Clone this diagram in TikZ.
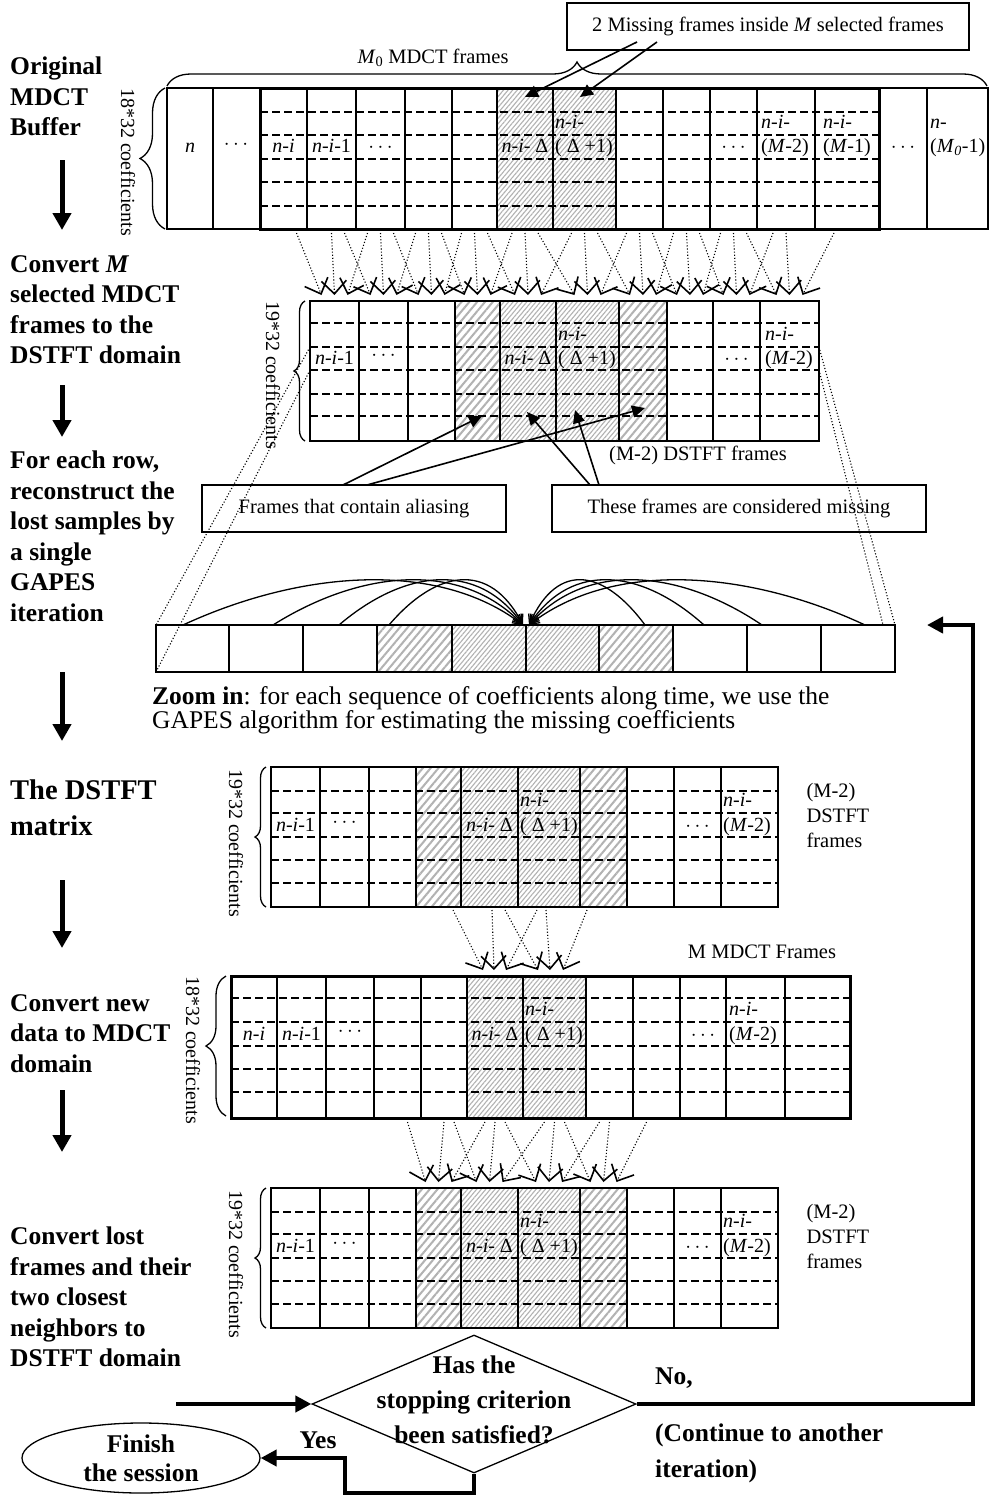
\documentclass[tikz,border=0pt]{standalone}
\usepackage{fontspec}
\setmainfont{Liberation Serif}
\usetikzlibrary{arrows.meta,decorations.pathreplacing,patterns.meta,shapes.geometric}

\begin{document}
\begin{tikzpicture}[
  x=1pt,
  y=-1pt,
  font=\fontsize{20.5}{25}\selectfont,
  steplabel/.style={font=\fontsize{25.5}{30.5}\selectfont\bfseries, align=left, anchor=north west, inner sep=0pt},
  boldtext/.style={font=\fontsize{25.5}{30}\selectfont\bfseries, inner sep=0pt},
  celllabel/.style={font=\fontsize{20}{22}\selectfont, inner sep=0pt, anchor=base},
  upperlabel/.style={celllabel, anchor=base west},
  coeflabel/.style={font=\fontsize{20}{22}\selectfont, rotate=-90, inner sep=0pt},
  callout/.style={draw, line width=1.3pt, inner sep=0pt},
  cellline/.style={line width=1.3pt},
  midline/.style={line width=2.2pt},
  rowline/.style={line width=1.3pt, dash pattern=on 8pt off 4pt},
  window/.style={line width=3pt},
  hatchwide/.style={pattern={Lines[angle=50,distance=6pt,line width=2pt]}, pattern color=black!30},
  hatchdense/.style={pattern={Lines[angle=50,distance=3.5pt,line width=1.1pt]}, pattern color=black!30},
  downarrow/.style={line width=5pt, -{Triangle[length=17pt,width=18pt]}},
  flowarrow/.style={line width=4pt, -{Triangle[length=16pt,width=16pt]}},
  conv/.style={dotted, line width=1.1pt, -{Straight Barb[length=13pt,width=25pt,line width=1.6pt]}},
  pointer/.style={line width=1.6pt, -{Triangle[length=13pt,width=12pt]}},
  gapes/.style={line width=1.3pt, -{Straight Barb[length=9pt,width=10pt]}},
  zoomline/.style={dotted, line width=1.1pt},
  coefbrace/.style={decorate, decoration={brace, amplitude=#1}, line width=1.3pt}
]

% White background
\fill[white] (0,0) rectangle (988,1496);
\useasboundingbox (0,0) rectangle (988,1496);

% Step labels
\node[steplabel] (s-orig) at (10,57) {Original\\MDCT\\Buffer};
\node[steplabel] (s-conv) at (10,255) {Convert \textit{M}\\selected MDCT\\frames to the\\DSTFT domain};
\node[steplabel] (s-row) at (10,451) {For each row,\\reconstruct the\\lost samples by\\a single\\GAPES\\iteration};
\node[steplabel, font=\fontsize{28.5}{36}\selectfont\bfseries] (s-mat) at (10,780) {The DSTFT\\matrix};
\node[steplabel] (s-new) at (10,994) {Convert new\\data to MDCT\\domain};
\node[steplabel] (s-lost) at (10,1227) {Convert lost\\frames and their\\two closest\\neighbors to\\DSTFT domain};

% Down arrows between steps
\foreach \a/\b [count=\n] in {160/230, 385/437, 672/741, 880/948, 1090/1152} {
  \coordinate (dn\n-from) at (62,\a);
  \coordinate (dn\n-to) at (62,\b);
  \draw[downarrow] (dn\n-from) -- (dn\n-to);
}

% Original MDCT buffer
\fill[hatchdense] (497,88) rectangle (616,229);
\foreach \y in {112,135,159,182,206}
  \draw[rowline] (260,\y) -- (879,\y);
\foreach \x in {213,260,307,356,405,452,497,553,616,663,710,757,815,879,927}
  \draw[cellline] (\x,88) -- (\x,229);
\draw[cellline] (167,88) rectangle (988,229);
\draw[window] (260,88) rectangle (879,229);

\node[celllabel] (tb-n) at (190,152) {\textit{n}};
\node[celllabel] (tb-d1) at (236,149) {$\cdots$};
\node[celllabel] (tb-ni) at (283.5,152) {\textit{n}-\textit{i}};
\node[celllabel] (tb-ni1) at (331.5,152) {\textit{n}-\textit{i}-1};
\node[celllabel] (tb-d2) at (380.5,152) {$\cdots$};
\node[celllabel] (tb-del) at (525,152) {\textit{n}-\textit{i}- Δ};
\node[upperlabel] (tb-up1) at (555,128) {\textit{n}-\textit{i}-};
\node[upperlabel] (tb-lo1) at (555,152) {( Δ +1)};
\node[celllabel] (tb-d3) at (733.5,152) {$\cdots$};
\node[upperlabel] (tb-up2) at (761,128) {\textit{n}-\textit{i}-};
\node[upperlabel] (tb-lo2) at (761,152) {(\textit{M}-2)};
\node[upperlabel] (tb-up3) at (823,128) {\textit{n}-\textit{i}-};
\node[upperlabel] (tb-lo3) at (823,152) {(\textit{M}-1)};
\node[celllabel] (tb-d4) at (903,152) {$\cdots$};
\node[upperlabel] (tb-up4) at (930,128) {\textit{n}-};
\node[upperlabel] (tb-lo4) at (930,152) {(\textit{M}\textsubscript{\textit{0}}-1)};

\draw[coefbrace=24] (167,86) -- (987,86);
\node (m0lbl) at (433,58) {\textit{M}\textsubscript{0} MDCT frames};
\draw[coefbrace=25] (165,229) -- (165,88);
\node[coeflabel] (coef-top) at (128,162) {18*32 coefficients};

% Missing frames call-out
\node[callout, minimum width=402, minimum height=47] (missbox) at (768,26.5) {2 Missing frames inside \textit{M} selected frames};
\coordinate (mb-a) at (637,42);
\coordinate (mb-b) at (657,42);
\coordinate (hit-a) at (525,97);
\coordinate (hit-b) at (580,97);
\draw[pointer] (mb-a) -- (hit-a);
\draw[pointer] (mb-b) -- (hit-b);

% MDCT -> DSTFT conversion
\foreach \ca/\cb/\cc/\d in {283.5/331.5/380.5/334.5, 331.5/380.5/428.5/383.5, 380.5/428.5/474.5/431.5,
    428.5/474.5/525/477.5, 474.5/525/584.5/528, 525/584.5/639.5/587.5, 584.5/639.5/686.5/643,
    639.5/686.5/733.5/690, 686.5/733.5/786/736.5, 733.5/786/847/789.5} {
  \draw[conv] (\ca+13,233) -- (\d-13,295);
  \draw[conv] (\cb,233) -- (\d,295);
  \draw[conv] (\cc-13,233) -- (\d+13,295);
}

% First DSTFT frames
\fill[hatchwide] (455,301) rectangle (500,441);
\fill[hatchdense] (500,301) rectangle (619,441);
\fill[hatchwide] (619,301) rectangle (667,441);
\foreach \y in {323,347,370,394,416}
  \draw[rowline] (310,\y) -- (819,\y);
\foreach \x in {359,408,455,500,667,713,760}
  \draw[cellline] (\x,301) -- (\x,441);
\foreach \x in {556,619}
  \draw[midline] (\x,301) -- (\x,441);
\draw[cellline] (310,301) rectangle (819,441);

\node[celllabel] (d1-ni1) at (334.5,364) {\textit{n}-\textit{i}-1};
\node[celllabel] (d1-dots1) at (383.5,360) {$\cdots$};
\node[celllabel] (d1-del) at (528,364) {\textit{n}-\textit{i}- Δ};
\node[upperlabel] (d1-up1) at (558,340) {\textit{n}-\textit{i}-};
\node[upperlabel] (d1-lo1) at (558,364) {( Δ +1)};
\node[celllabel] (d1-dots2) at (736.5,364) {$\cdots$};
\node[upperlabel] (d1-up2) at (765,340) {\textit{n}-\textit{i}-};
\node[upperlabel] (d1-lo2) at (765,364) {(\textit{M}-2)};

\draw[coefbrace=11] (305,441) -- (305,301);
\node[coeflabel] (coef-d1) at (273,375) {19*32 coefficients};
\node (d1lbl) at (698,455) {(M-2) DSTFT frames};

% Aliasing and missing call-outs
\node[callout, minimum width=304, minimum height=47] (aliasbox) at (354,508.5) {Frames that contain aliasing};
\node[callout, minimum width=374, minimum height=47] (lostbox) at (739,508.5) {These frames are considered missing};
\coordinate (ab-a) at (343,485);
\coordinate (ab-b) at (367,485);
\coordinate (lb-a) at (590,485);
\coordinate (lb-b) at (599,485);
\coordinate (al-a) at (482,416);
\coordinate (al-b) at (645,408);
\coordinate (ls-a) at (527,412);
\coordinate (ls-b) at (575,410);
\draw[pointer] (ab-a) -- (al-a);
\draw[pointer] (ab-b) -- (al-b);
\draw[pointer] (lb-a) -- (ls-a);
\draw[pointer] (lb-b) -- (ls-b);

% Zoom lines to the single row
\draw[zoomline] (310,347) -- (156,625);
\draw[zoomline] (310,370) -- (156,672);
\draw[zoomline] (819,347) -- (895,625);
\draw[zoomline] (819,370) -- (883,625);

% Zoomed-in row
\fill[hatchwide] (377,625) rectangle (452,672);
\fill[hatchdense] (452,625) rectangle (599,672);
\fill[hatchwide] (599,625) rectangle (673,672);
\foreach \x in {229,303,377,452,599,673,747,821}
  \draw[cellline] (\x,625) -- (\x,672);
\draw[midline] (526,625) -- (526,672);
\draw[cellline] (156,625) rectangle (895,672);

% GAPES arcs
\coordinate (zt-l) at (523,625);
\coordinate (zt-r) at (529,625);
\foreach \s in {183,273,339,389}
  \draw[gapes] (\s,625) .. controls ({\s+0.35*(523-\s)},570) and ({523-0.25*(523-\s)},560) .. (zt-l);
\foreach \s in {645,704,762,865}
  \draw[gapes] (\s,625) .. controls ({\s-0.35*(\s-529)},570) and ({529+0.25*(\s-529)},560) .. (zt-r);

\node[font=\fontsize{25.5}{24}\selectfont, align=left, anchor=north west, inner sep=0pt] (zoomnote) at (152,686)
  {\textbf{Zoom in}: for each sequence of coefficients along time, we use the\\GAPES algorithm for estimating the missing coefficients};

% DSTFT matrices (before and after the MDCT round trip)
\foreach \t in {767,1188} {
  \fill[hatchwide] (416,\t) rectangle (461,\t+140);
  \fill[hatchdense] (461,\t) rectangle (580,\t+140);
  \fill[hatchwide] (580,\t) rectangle (627,\t+140);
  \foreach \dy in {24,46,70,93,116}
    \draw[rowline] (271,\t+\dy) -- (778,\t+\dy);
  \foreach \x in {320,369,416,461,627,674,721}
    \draw[cellline] (\x,\t) -- (\x,\t+140);
  \foreach \x in {518,580}
    \draw[midline] (\x,\t) -- (\x,\t+140);
  \draw[cellline] (271,\t) rectangle (778,\t+140);

  \node[celllabel] (ni1-\t) at (295.5,\t+64) {\textit{n}-\textit{i}-1};
  \node[celllabel] (dotsa-\t) at (344.5,\t+60) {$\cdots$};
  \node[celllabel] (del-\t) at (489.5,\t+64) {\textit{n}-\textit{i}- Δ};
  \node[upperlabel] (upa-\t) at (520,\t+39) {\textit{n}-\textit{i}-};
  \node[upperlabel] (loa-\t) at (520,\t+64) {( Δ +1)};
  \node[celllabel] (dotsb-\t) at (697.5,\t+64) {$\cdots$};
  \node[upperlabel] (upb-\t) at (723,\t+39) {\textit{n}-\textit{i}-};
  \node[upperlabel] (lob-\t) at (723,\t+64) {(\textit{M}-2)};

  \draw[coefbrace=11] (266,\t+140) -- (266,\t);
  \node[coeflabel] (coef-\t) at (236,\t+76) {19*32 coefficients};
  \node[align=left, anchor=west] (note-\t) at (803,\t+48) {(M-2)\\DSTFT\\frames};
}

% DSTFT -> MDCT conversion
\foreach \a/\b in {453/483, 492/494, 537/506, 505/538, 546/550, 587/563}
  \draw[conv] (\a,910) -- (\b,970);

% M MDCT frames
\fill[hatchdense] (467,976) rectangle (586,1118);
\foreach \y in {998,1022,1046,1069,1092}
  \draw[rowline] (231,\y) -- (850,\y);
\foreach \x in {277,326,374,421,467,633,680,726,785}
  \draw[cellline] (\x,976) -- (\x,1118);
\foreach \x in {523,586}
  \draw[midline] (\x,976) -- (\x,1118);
\draw[window] (231,976) rectangle (850,1118);

\node[celllabel] (m-ni) at (254,1040) {\textit{n}-\textit{i}};
\node[celllabel] (m-ni1) at (301.5,1040) {\textit{n}-\textit{i}-1};
\node[celllabel] (m-dots1) at (350,1036) {$\cdots$};
\node[celllabel] (m-del) at (495,1040) {\textit{n}-\textit{i}- Δ};
\node[upperlabel] (m-up1) at (525,1015) {\textit{n}-\textit{i}-};
\node[upperlabel] (m-lo1) at (525,1040) {( Δ +1)};
\node[celllabel] (m-dots2) at (703,1040) {$\cdots$};
\node[upperlabel] (m-up2) at (729,1015) {\textit{n}-\textit{i}-};
\node[upperlabel] (m-lo2) at (729,1040) {(\textit{M}-2)};

\draw[coefbrace=20] (226,1116) -- (226,976);
\node[coeflabel] (coef-m) at (193,1050) {18*32 coefficients};
\node (mlbl) at (762,952) {M MDCT Frames};

% MDCT -> DSTFT conversion of the lost frames
\foreach \ca/\cb/\cc/\d in {397.5/444/495/438.5, 444/495/554.5/489.5, 495/554.5/609.5/549, 554.5/609.5/656.5/603.5} {
  \draw[conv] (\ca+10,1122) -- (\d-13,1182);
  \draw[conv] (\cb,1122) -- (\d,1182);
  \draw[conv] (\cc-10,1122) -- (\d+13,1182);
}

% Stopping test
\node[diamond, draw, line width=1.3pt, minimum width=324, minimum height=138, inner sep=0pt] (check) at (474,1404) {};
\node[boldtext, align=center, font=\fontsize{25.5}{35}\selectfont\bfseries] (checktxt) at (474,1400) {Has the\\stopping criterion\\been satisfied?};
\coordinate (feed) at (176,1404);
\draw[flowarrow] (feed) -- (check.west);

\coordinate (loopup) at (973,625);
\coordinate (backin) at (927,625);
\draw[flowarrow] (check.east) -| (loopup) -- (backin);
\node[boldtext, anchor=west] (no) at (655,1378) {No,};
\node[boldtext, align=left, anchor=north west, font=\fontsize{25.5}{36}\selectfont\bfseries] (cont) at (655,1424) {(Continue to another\\iteration)};

\node[ellipse, draw, line width=1.3pt, minimum width=238, minimum height=70, inner sep=0pt, align=center,
  font=\fontsize{25.5}{29}\selectfont\bfseries] (finish) at (141,1458) {Finish\\the session};
\coordinate (yesdrop) at (474,1493);
\coordinate (yesturn) at (345,1458);
\draw[flowarrow] (check.south) -- (yesdrop) -| (yesturn) -- (finish.east);
\node[boldtext] (yes) at (318,1440) {Yes};

\end{tikzpicture}
\end{document}
